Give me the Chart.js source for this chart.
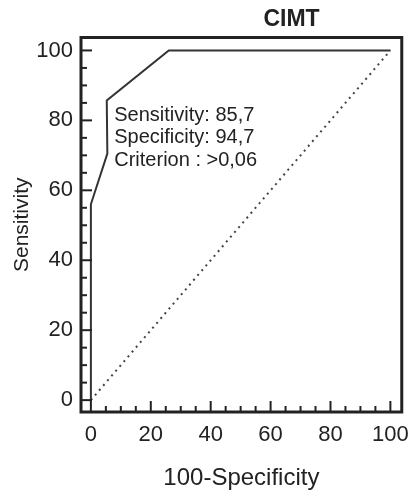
<!DOCTYPE html>
<html>
<head>
<meta charset="utf-8">
<script src="https://cdn.jsdelivr.net/npm/chart.js@4.4.1/dist/chart.umd.min.js"></script>
<style>
  html, body { margin: 0; padding: 0; background: #fff; }
  #wrap { width: 419px; height: 490px; position: relative; }
</style>
</head>
<body>
<div id="wrap"><canvas id="roc"></canvas></div>
<script>
// ROC curve for CIMT
const rocX = [0, 0, 5.5, 5.3, 26, 100];
const rocY = [0, 56, 70.5, 85.7, 100, 100];
const refX = [0, 100];
const refY = [0, 100];

const majorTicks = [0, 20, 40, 60, 80, 100];
const minorTicks = [5, 10, 15, 25, 30, 35, 45, 50, 55, 65, 70, 75, 85, 90, 95];

const chartTitle = 'CIMT';
const titleAtX = 67;
const noteLines = ['Sensitivity: 85,7', 'Specificity: 94,7', 'Criterion : >0,06'];
const noteAt = { x: 7.8, y: 81.4 };

const ink = '#222';
const fontFamily = '"Liberation Sans", Arial, sans-serif';

const allTicks = majorTicks.concat(minorTicks).sort((a, b) => a - b);

// ticks pointing inwards + frame box + title + note
const framePlugin = {
    id: 'framePlugin',
    afterDraw(chart) {
        const ctx = chart.ctx;
        const area = chart.chartArea;
        const xs = chart.scales.x, ys = chart.scales.y;
        ctx.save();
        ctx.strokeStyle = ink;
        ctx.lineWidth = 2;
        allTicks.forEach(v => {
            const len = majorTicks.includes(v) ? 11 : 6;
            const px = xs.getPixelForValue(v);
            ctx.beginPath();
            ctx.moveTo(px, area.bottom);
            ctx.lineTo(px, area.bottom - len);
            ctx.stroke();
            const py = ys.getPixelForValue(v);
            ctx.beginPath();
            ctx.moveTo(area.left, py);
            ctx.lineTo(area.left + len, py);
            ctx.stroke();
        });
        ctx.lineWidth = 3;
        ctx.strokeRect(area.left, area.top, area.right - area.left, area.bottom - area.top);

        ctx.fillStyle = ink;
        ctx.font = 'bold 23px ' + fontFamily;
        ctx.textAlign = 'center';
        ctx.textBaseline = 'middle';
        ctx.fillText(chartTitle, xs.getPixelForValue(titleAtX), area.top - 18);

        ctx.font = '20px ' + fontFamily;
        ctx.textAlign = 'left';
        const nx = xs.getPixelForValue(noteAt.x);
        const ny = ys.getPixelForValue(noteAt.y);
        noteLines.forEach((t, i) => ctx.fillText(t, nx, ny + i * 22.5));
        ctx.restore();
    }
};

new Chart(document.getElementById('roc'), {
    type: 'scatter',
    data: {
        datasets: [{
            label: 'CIMT',
            data: rocX.map((x, i) => ({ x: x, y: rocY[i] })),
            showLine: true,
            borderColor: '#333',
            borderWidth: 2,
            pointRadius: 0,
            fill: false,
            tension: 0
        }, {
            label: 'Reference',
            data: refX.map((x, i) => ({ x: x, y: refY[i] })),
            showLine: true,
            borderColor: '#444',
            borderWidth: 2,
            borderDash: [2, 4.3],
            pointRadius: 0,
            fill: false
        }]
    },
    options: {
        responsive: true,
        maintainAspectRatio: false,
        animation: false,
        layout: { padding: { top: 37.5, right: 7.3, left: 0, bottom: 0 } },
        plugins: { legend: { display: false }, tooltip: { enabled: false }, title: { display: false } },
        scales: {
            x: {
                type: 'linear',
                min: -3.3,
                max: 103.8,
                afterBuildTicks: s => { s.ticks = majorTicks.map(v => ({ value: v })); },
                afterFit: s => { s.height = 78; },
                grid: { display: false, drawTicks: false },
                border: { display: false },
                ticks: { color: ink, padding: 10, font: { family: fontFamily, size: 22 } },
                title: { display: true, text: '100-Specificity', color: ink, padding: 0,
                         font: { family: fontFamily, size: 24, lineHeight: 1.0 } }
            },
            y: {
                type: 'linear',
                min: -3.4,
                max: 103.7,
                afterBuildTicks: s => { s.ticks = majorTicks.map(v => ({ value: v })); },
                afterFit: s => { s.width = 81; },
                grid: { display: false, drawTicks: false },
                border: { display: false },
                ticks: { color: ink, padding: 8, font: { family: fontFamily, size: 22 } },
                title: { display: true, text: 'Sensitivity', color: ink, padding: { top: 10, bottom: 0 },
                         font: { family: fontFamily, size: 21, lineHeight: 1.2 } }
            }
        }
    },
    plugins: [framePlugin]
});
</script>
</body>
</html>
